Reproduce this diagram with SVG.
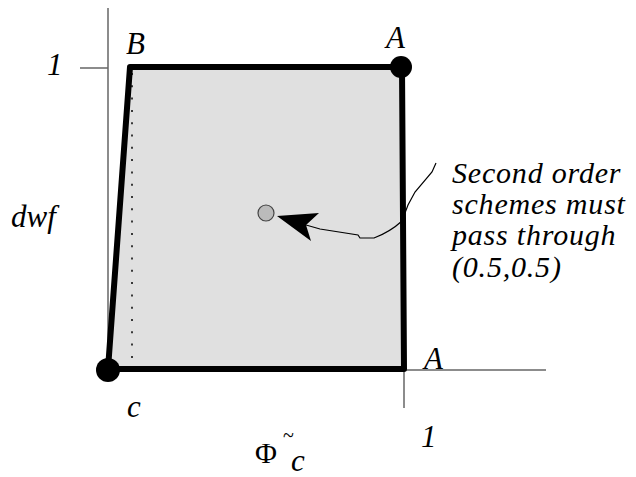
<svg xmlns="http://www.w3.org/2000/svg" width="636" height="477" viewBox="0 0 636 477">
<style>
.axis{stroke:#666;stroke-width:1.5;fill:none}
text{font-family:'Liberation Serif','Times New Roman',Times,serif;fill:#000}
.lbl{font-style:italic;font-size:31px}
.note{font-style:italic;font-size:30px;letter-spacing:0.8px}
</style>
<rect width="636" height="477" fill="#fff"/>
<g id="axes">
<line class="axis" x1="108" y1="8" x2="108" y2="370"/>
<line class="axis" x1="108" y1="370" x2="546" y2="370"/>
<line class="axis" x1="80" y1="68" x2="108" y2="68"/>
<line class="axis" x1="404" y1="370" x2="404" y2="408"/>
</g>
<g id="region">
<polygon points="108,369 130,67 402,67 404,369" fill="#e0e0e0" stroke="#000" stroke-width="6" stroke-linejoin="round"/>
<line x1="132" y1="73" x2="132" y2="360" stroke="#000" stroke-width="1.5" stroke-dasharray="2 10.3"/>
</g>
<g id="pointC"><circle cx="108" cy="370" r="12" fill="#000"/></g>
<g id="pointA"><circle cx="401" cy="67" r="11" fill="#000"/></g>
<g id="center"><circle cx="266" cy="213" r="8" fill="#bbb" stroke="#444" stroke-width="1.2"/></g>
<g id="connectors">
<path d="M306,225 L320,229 L358,235 L360,238 L374,238 Q390,232 402,221 L408,205 L415,192 L432,172 L436,163" fill="none" stroke="#000" stroke-width="1.2"/>
<polygon points="277,216 319,213 306,225 311,241" fill="#000"/>
</g>
<g id="labels">
<text class="lbl" x="47" y="75">1</text>
<text class="lbl" x="126" y="54">B</text>
<text class="lbl" x="386" y="48">A</text>
<text class="lbl" x="424" y="369">A</text>
<text class="lbl" x="127" y="417">c</text>
<text class="lbl" x="421" y="447">1</text>
<text class="lbl" x="11" y="227" font-size="32">dwf</text>
<text x="255" y="463" font-size="30">Φ</text>
<text x="283" y="442" font-size="20">~</text>
<text x="291" y="471" class="lbl" font-size="29">c</text>
</g>
<g id="note">
<text class="note" x="452" y="183">Second order</text>
<text class="note" x="452" y="214">schemes must</text>
<text class="note" x="452" y="245">pass through</text>
<text class="note" x="452" y="277">(0.5,0.5)</text>
</g>
</svg>
